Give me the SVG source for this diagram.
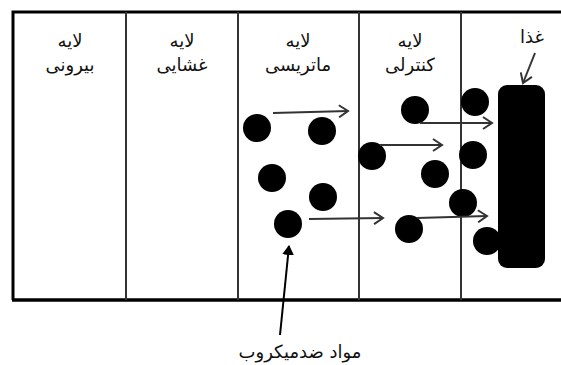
<svg xmlns="http://www.w3.org/2000/svg" width="561" height="365" viewBox="0 0 561 365">
<defs>
<style>
.t{font-family:"DejaVu Sans","Noto Sans",sans-serif;font-size:18px;fill:#111;text-anchor:middle;direction:rtl}
.div{stroke:#333;stroke-width:2;fill:none}
.p{fill:#000}
.c{stroke:#333;stroke-width:2;fill:none}
</style>
<marker id="open" markerWidth="12" markerHeight="14" refX="10" refY="7" orient="auto" markerUnits="userSpaceOnUse">
<path d="M1,1 L10,7 L1,13" fill="none" stroke="#333" stroke-width="2"/>
</marker>
<marker id="solid" markerWidth="10" markerHeight="12" refX="9" refY="6" orient="auto" markerUnits="userSpaceOnUse">
<path d="M0,0 L10,6 L0,12 Z" fill="#000"/>
</marker>
</defs>
<rect width="561" height="365" fill="#fff"/>
<g id="frame">
<path d="M13,300 V12 H561" fill="none" stroke="#000" stroke-width="3"/>
<line x1="12" y1="300" x2="561" y2="300" stroke="#000" stroke-width="3.5"/>
<line class="div" x1="126" y1="12" x2="126" y2="300"/>
<line class="div" x1="238" y1="12" x2="238" y2="300"/>
<line class="div" x1="359" y1="12" x2="359" y2="300"/>
<line class="div" x1="461" y1="12" x2="461" y2="300"/>
</g>
<g id="layer-outer"><text class="t" x="70" y="47">لایه</text><text class="t" x="70" y="71">بیرونی</text></g>
<g id="layer-membrane"><text class="t" x="182" y="47">لایه</text><text class="t" x="182" y="71">غشایی</text></g>
<g id="layer-matrix"><text class="t" x="298" y="47">لایه</text><text class="t" x="298" y="71">ماتریسی</text></g>
<g id="layer-control"><text class="t" x="410" y="47">لایه</text><text class="t" x="410" y="71">کنترلی</text></g>
<g id="food"><text class="t" x="532" y="43">غذا</text><rect x="498" y="85" width="47" height="183" rx="9" class="p"/></g>
<g id="particles" class="p">
<circle cx="257" cy="128" r="14"/>
<circle cx="322" cy="131" r="14"/>
<circle cx="272" cy="178" r="14"/>
<circle cx="323" cy="197" r="14"/>
<circle cx="288" cy="224" r="14"/>
<circle cx="372" cy="156" r="14"/>
<circle cx="435" cy="174" r="14"/>
<circle cx="409" cy="229" r="14"/>
<circle cx="415" cy="110" r="14"/>
<circle cx="475" cy="102" r="14"/>
<circle cx="473" cy="155" r="14"/>
<circle cx="463" cy="203" r="14"/>
<circle cx="487" cy="241" r="14"/>
</g>
<g id="label-antimicrobial"><text class="t" x="300" y="358">مواد ضدمیکروب</text></g>
<g id="connectors">
<line class="c" x1="273" y1="113" x2="348" y2="111" marker-end="url(#open)"/>
<line class="c" x1="420" y1="123" x2="492" y2="123" marker-end="url(#open)"/>
<line class="c" x1="380" y1="145" x2="442" y2="145" marker-end="url(#open)"/>
<line class="c" x1="309" y1="219" x2="383" y2="218" marker-end="url(#open)"/>
<line class="c" x1="417" y1="218" x2="487" y2="216" marker-end="url(#open)"/>
<line class="c" x1="535" y1="53" x2="523" y2="83" marker-end="url(#open)"/>
<line x1="280" y1="335" x2="289" y2="246" stroke="#000" stroke-width="2" marker-end="url(#solid)"/>
</g>
</svg>
